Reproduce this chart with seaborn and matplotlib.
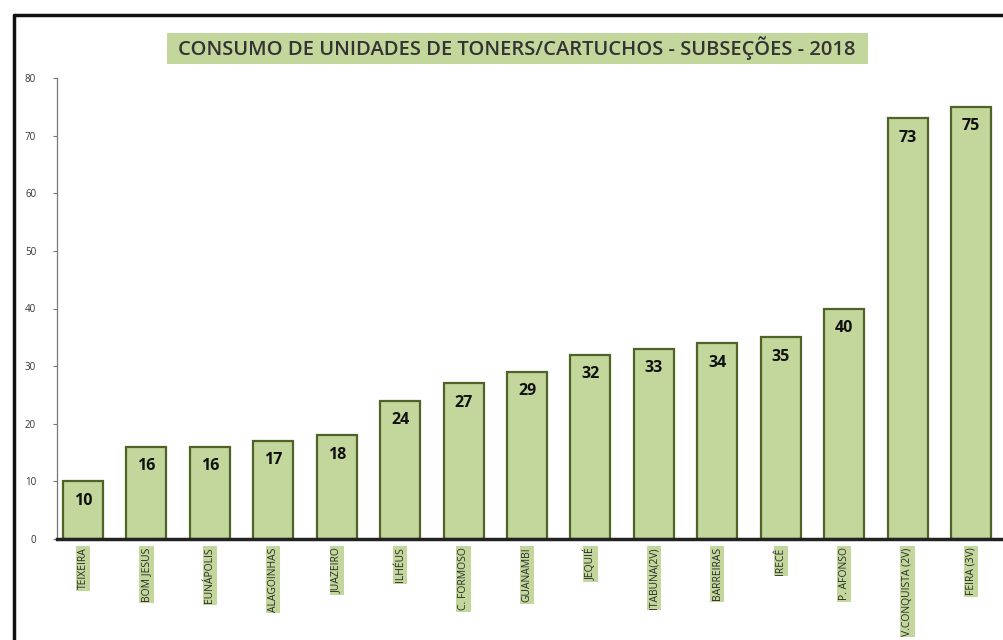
import matplotlib
matplotlib.use("Agg")
import matplotlib.pyplot as plt
import seaborn as sns
import pandas as pd
from matplotlib.lines import Line2D
from matplotlib.patches import Rectangle

categories = ["TEIXEIRA", "BOM JESUS", "EUNÁPOLIS", "ALAGOINHAS", "JUAZEIRO", "ILHÉUS",
              "C. FORMOSO", "GUANAMBI", "JEQUIÉ", "ITABUNA(2V)", "BARREIRAS", "IRECÊ",
              "P. AFONSO", "V.CONQUISTA (2V)", "FEIRA (3V)"]
values = [10, 16, 16, 17, 18, 24, 27, 29, 32, 33, 34, 35, 40, 73, 75]
title = "CONSUMO DE UNIDADES DE TONERS/CARTUCHOS - SUBSEÇÕES - 2018"
yticks = [0, 10, 20, 30, 40, 50, 60, 70, 80]

df = pd.DataFrame({"cat": categories, "val": values})

sns.set_theme(style="white")
plt.rcParams["font.family"] = ["Open Sans", "DejaVu Sans"]

fig = plt.figure(figsize=(10.04, 6.4), dpi=100)
ax = fig.add_axes([57 / 1004, 1 - 539 / 640, 1 - 57 / 1004, (539 - 78) / 640])

green = "#c3d69b"
sns.barplot(data=df, x="cat", y="val", color=green, width=0.63, ax=ax,
            edgecolor="#4f6228", linewidth=1.6, saturation=1)

ax.set_xlim(-0.41, 14.52)
ax.set_ylim(0, 80)
ax.set_yticks(yticks)
ax.set_yticklabels([str(t) for t in yticks], fontsize=7, color="#333333")
ax.tick_params(axis="y", length=3, width=0.8, color="#777777", pad=12, left=True)
ax.tick_params(axis="x", length=0, pad=6)
ax.set_xlabel("")
ax.set_ylabel("")
for lbl in ax.get_xticklabels():
    lbl.set_rotation(90)
    lbl.set_fontsize(7.5)
    lbl.set_color("#2a2a2a")
    lbl.set_va("top")
    lbl.set_ha("center")
    lbl.set_bbox(dict(facecolor=green, edgecolor="none", pad=1.2))

for s in ["top", "right"]:
    ax.spines[s].set_visible(False)
ax.spines["left"].set_color("#777777")
ax.spines["left"].set_linewidth(0.9)
ax.spines["bottom"].set_color("#222222")
ax.spines["bottom"].set_linewidth(2.5)

for i, v in enumerate(values):
    ax.annotate(str(v), (i, v), xytext=(0, -14), textcoords="offset points",
                ha="center", va="center", fontsize=11.5, fontweight="bold", color="#111111")

# title box
fig.add_artist(Rectangle((167 / 1004, 1 - 64 / 640), (868 - 167) / 1004, 31 / 640,
                         transform=fig.transFigure, facecolor=green, edgecolor="none"))
fig.text(517 / 1004, 1 - 48 / 640, title, ha="center", va="center", fontsize=14.5,
         fontweight="semibold", color="#333333")

# outer frame lines (top and left)
fig.add_artist(Line2D([14 / 1004, 1], [1 - 15 / 640, 1 - 15 / 640], transform=fig.transFigure,
                      color="#111111", linewidth=2.5))
fig.add_artist(Line2D([14 / 1004, 14 / 1004], [0, 1 - 15 / 640], transform=fig.transFigure,
                      color="#111111", linewidth=2.5))

fig.savefig("out.png", dpi=100, facecolor="white")
